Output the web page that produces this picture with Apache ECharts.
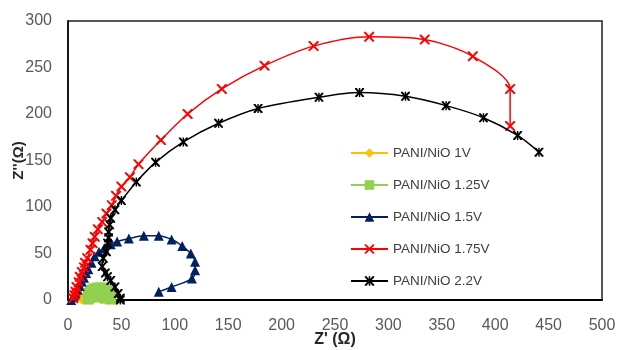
<!DOCTYPE html>
<html>
<head>
<meta charset="utf-8">
<script src="https://cdn.jsdelivr.net/npm/echarts@6/dist/echarts.min.js"></script>
<style>html,body{margin:0;padding:0;background:#fff;}#c{width:618px;height:350px;}</style>
</head>
<body>
<div id="c"></div>
<script>
const seriesNames = ['PANI/NiO 1V', 'PANI/NiO 1.25V', 'PANI/NiO 1.5V', 'PANI/NiO 1.75V', 'PANI/NiO 2.2V'];
const xTicks = [0, 50, 100, 150, 200, 250, 300, 350, 400, 450, 500];
const yTicks = [0, 50, 100, 150, 200, 250, 300];

const z1V = [[13,0],[14,2],[15,4],[17,6],[20,7],[23,7],[26,6],[28,4],[30,2],[31,0]];
const z125V = [[19,1],[19,4],[20,7],[21,9],[23,11],[25,12],[28,13],[31,13],[34,12],[37,11],[38,9],[39,7],[40,4],[40,1],[37,2],[33,3],[29,4],[25,4],[22,3],[24,7],[27,9],[31,9],[35,7],[30,6]];
const z15V = [[3,0],[5,3],[7,7],[9,11],[11,15],[13,20],[15,24],[17,29],[19,33],[22,40],[25,47],[29,52],[34,56],[40,60],[46,63],[57,66],[71,69],[85,69],[97,65],[107,58],[115,50],[119,41],[119,32],[116,23],[97,14],[85,9]];
const z175V = [[5,2],[6,5],[7,9],[8,14],[10,19],[11,25],[13,30],[15,35],[16,40],[18,45],[21,54],[23,61],[25,68],[28,76],[32,84],[36,93],[41,102],[45,112],[50,122],[58,132],[66,146],[87,172],[112,200],[144,227],[184,252],[230,273],[282,283],[334,280],[379,262],[414,227],[414,187]];
const z22V = [[49,0],[49,2],[47,7],[44,14],[40,21],[37,25],[35,29],[32,36],[33,45],[36,52],[37,61],[38,67],[38,73],[39,81],[40,88],[44,97],[50,107],[64,127],[82,148],[108,170],[141,190],[178,206],[235,218],[273,223],[316,219],[354,209],[389,196],[421,177],[441,159]];

const crossPath = 'path://M0,0 L1.4,0 L5,3.6 L8.6,0 L10,0 L10,1.4 L6.4,5 L10,8.6 L10,10 L8.6,10 L5,6.4 L1.4,10 L0,10 L0,8.6 L3.6,5 L0,1.4 Z';
const starPath = 'path://M0,0 L2,0 L4.2,2.8 L4.2,0 L5.8,0 L5.8,2.8 L8,0 L10,0 L10,1.2 L6.6,5 L10,8.8 L10,10 L8,10 L5.8,7.2 L5.8,10 L4.2,10 L4.2,7.2 L2,10 L0,10 L0,8.8 L3.4,5 L0,1.2 Z';

const colors = ['#FFC000', '#92D050', '#002060', '#FF0000', '#000000'];
const datas = [z1V, z125V, z15V, z175V, z22V];
const symbols = ['diamond', 'rect', 'triangle', crossPath, starPath];
const sizes = [9, 11, 10, 10, 9];

const chart = echarts.init(document.getElementById('c'));
chart.setOption({
  animation: false,
  backgroundColor: '#fff',
  grid: {left: 68, right: 16, top: 21, bottom: 50, containLabel: false, outerBoundsMode: 'none', show: true, borderColor: '#222', borderWidth: 1.5, backgroundColor: 'transparent'},
  xAxis: {
    type: 'value', min: xTicks[0], max: xTicks[xTicks.length-1], interval: 50,
    name: "Z' (Ω)", nameLocation: 'middle', nameGap: 32, nameMoveOverlap: false,
    nameTextStyle: {fontFamily: 'Liberation Sans', fontWeight: 'bold', fontSize: 16, color: '#262626'},
    axisLine: {show: true, lineStyle: {color: '#000', width: 2}},
    axisTick: {show: false}, splitLine: {show: false},
    axisLabel: {margin: 18, fontFamily: 'Liberation Sans', fontSize: 16, color: '#595959'}
  },
  yAxis: {
    type: 'value', min: yTicks[0], max: yTicks[yTicks.length-1], interval: 50,
    name: "Z''(Ω)", nameLocation: 'middle', nameGap: 42, nameRotate: 90, nameMoveOverlap: false,
    nameTextStyle: {fontFamily: 'Liberation Sans', fontWeight: 'bold', fontSize: 15, color: '#262626'},
    axisLine: {show: true, lineStyle: {color: '#000', width: 1.5}},
    axisTick: {show: false}, splitLine: {show: false},
    axisLabel: {margin: 16, fontFamily: 'Liberation Sans', fontSize: 16, color: '#595959'}
  },
  legend: {
    orient: 'vertical', left: 350, top: 146, padding: 0, itemWidth: 37, itemHeight: 12, itemGap: 18,
    textStyle: {fontFamily: 'Liberation Sans', fontSize: 13.5, color: '#404040'},
    data: seriesNames
  },
  series: seriesNames.map((n, i) => ({
    name: n, type: 'line', data: datas[i], smooth: 0.3,
    symbol: symbols[i], symbolSize: sizes[i], symbolKeepAspect: true, showAllSymbol: true,
    lineStyle: {color: colors[i], width: 1.5},
    itemStyle: {color: colors[i], borderWidth: 0},
    z: 2 + i
  }))
});
</script>
</body>
</html>
